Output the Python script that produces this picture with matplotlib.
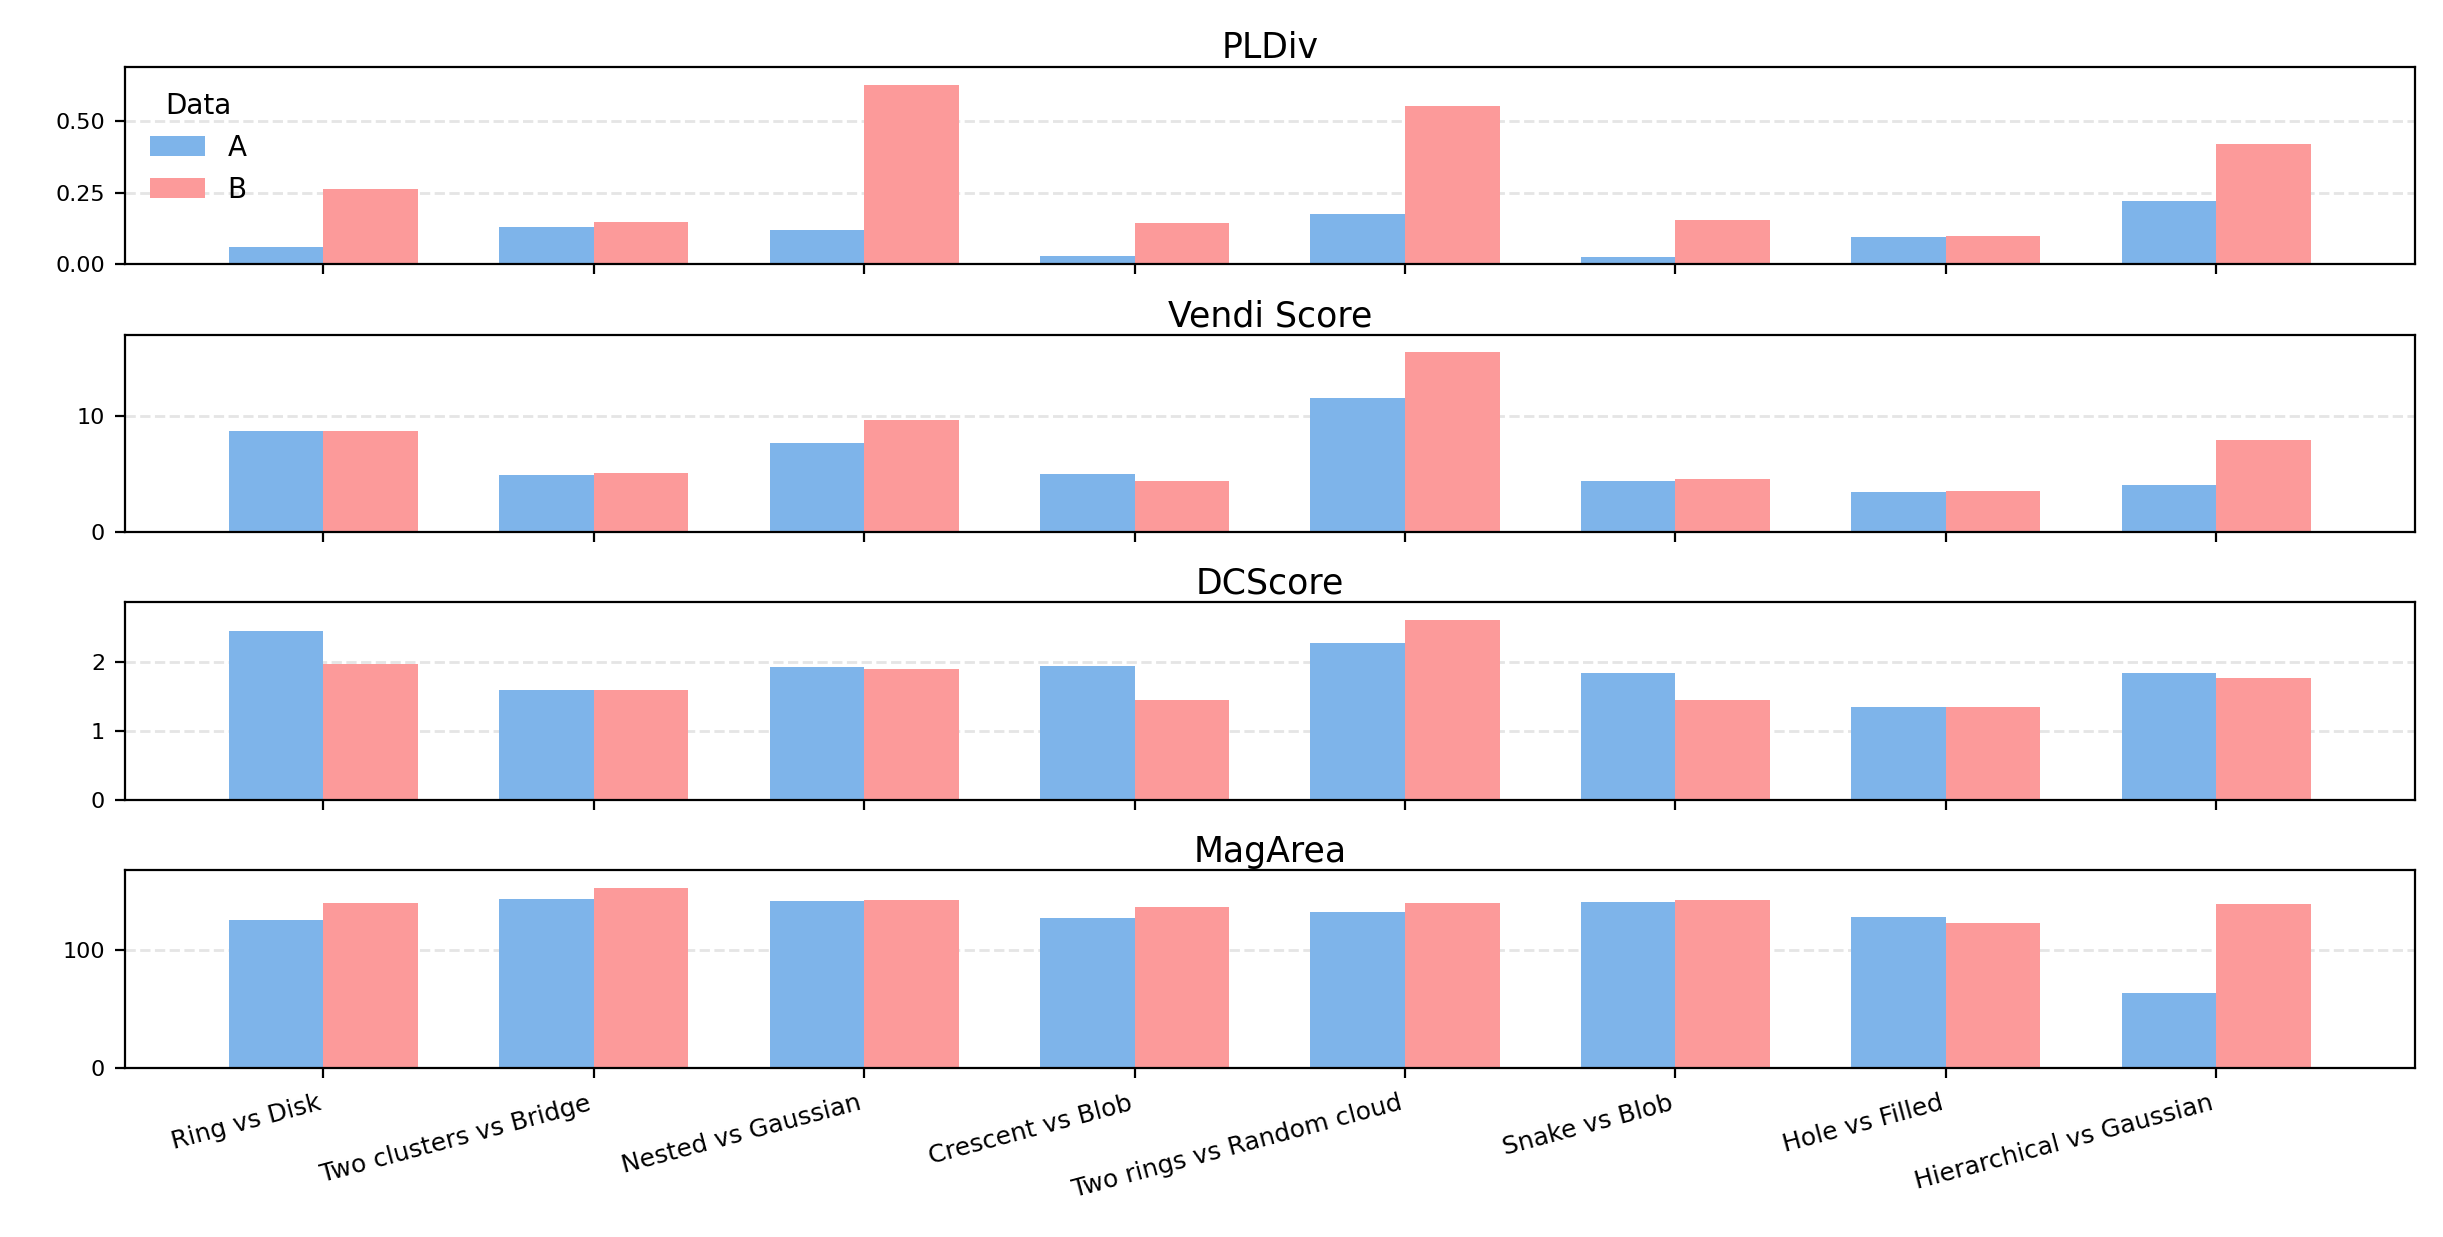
import numpy as np
import matplotlib.pyplot as plt
from matplotlib.ticker import MaxNLocator

pairs = ["Ring vs Disk", "Two clusters vs Bridge", "Nested vs Gaussian",
         "Crescent vs Blob", "Two rings vs Random cloud", "Snake vs Blob",
         "Hole vs Filled", "Hierarchical vs Gaussian"]

metrics = ["PLDiv", "Vendi Score", "DCScore", "MagArea"]

pldiv_a = [0.061, 0.131, 0.120, 0.029, 0.176, 0.026, 0.096, 0.221]
pldiv_b = [0.263, 0.148, 0.627, 0.145, 0.554, 0.155, 0.099, 0.421]

vendi_a = [8.74, 4.94, 7.70, 5.03, 11.58, 4.43, 3.48, 4.08]
vendi_b = [8.74, 5.11, 9.68, 4.43, 15.46, 4.60, 3.56, 7.96]

dc_a = [2.45, 1.59, 1.92, 1.93, 2.27, 1.83, 1.34, 1.83]
dc_b = [1.96, 1.59, 1.89, 1.45, 2.60, 1.45, 1.35, 1.77]

mag_a = [125.9, 143.7, 142.0, 127.6, 132.7, 141.2, 128.4, 63.6]
mag_b = [140.3, 153.1, 142.9, 136.9, 140.3, 142.9, 123.3, 139.5]

values_a = [pldiv_a, vendi_a, dc_a, mag_a]
values_b = [pldiv_b, vendi_b, dc_b, mag_b]

color_a = "#7EB4EA"
color_b = "#FC9A9A"


def main():
    x = np.arange(len(pairs))
    w = 0.35

    fig, axes = plt.subplots(4, 1, figsize=(12.215, 6.185), dpi=200, sharex=True)
    fig.subplots_adjust(left=0.051, right=0.9885, top=0.946, bottom=0.137, hspace=0.355)

    for i, ax in enumerate(axes):
        a = values_a[i]
        b = values_b[i]
        ax.bar(x - w / 2, a, w, color=color_a, label="A")
        ax.bar(x + w / 2, b, w, color=color_b, label="B")
        ax.set_title(metrics[i], fontsize=12.5, pad=3)
        ax.set_ylim(0, max(max(a), max(b)) * 1.1)
        ax.yaxis.set_major_locator(MaxNLocator(3, steps=[1, 2.5, 5, 10]))
        ax.grid(axis="y", linestyle="--", color="#e5e5e5", linewidth=1)
        ax.set_axisbelow(True)
        ax.tick_params(axis="y", labelsize=8)
        if i == 0:
            ax.legend(title="Data", loc="upper left", frameon=False,
                      fontsize=10, title_fontsize=10)

    axes[-1].set_xticks(x)
    axes[-1].set_xticklabels(pairs, rotation=15, ha="right", fontsize=9)
    axes[-1].tick_params(axis="x", pad=5)

    fig.savefig("out.png", dpi=200)


if __name__ == "__main__":
    main()
